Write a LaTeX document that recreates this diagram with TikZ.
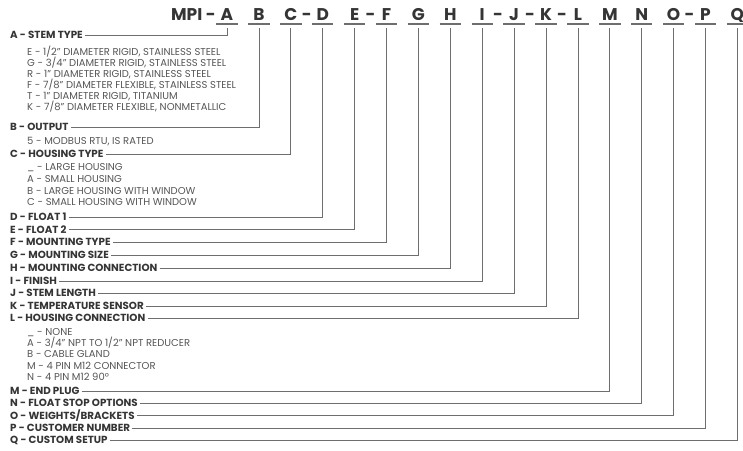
\documentclass[tikz,border=0pt]{standalone}
\usepackage{fontspec}
\setmainfont{Poppins}
\usepackage{xcolor}
\usetikzlibrary{calc, positioning}
\definecolor{codegray}{HTML}{353535}
\definecolor{optgray}{HTML}{555555}
\definecolor{leadgray}{HTML}{6E6E6E}

\begin{document}
\begin{tikzpicture}[
    x=1pt, y=-1pt,
    code letter/.style={
        font=\fontsize{17}{17}\selectfont\bfseries,
        text=codegray,
        anchor=base,
        inner sep=0pt,
        minimum width=21pt  % 与下划线等宽
    },
    field label/.style={
        font=\fontsize{10.3}{11}\selectfont\bfseries,
        text=codegray,
        anchor=west,
        text height=7.2pt, text depth=0pt,
        inner xsep=2pt, inner ysep=0pt
    },
    option line/.style={
        font=\fontsize{10}{11}\selectfont,
        text=optgray,
        anchor=west,
        text height=7pt, text depth=0pt,
        inner sep=0pt
    },
    leader/.style={draw=leadgray, line width=0.8pt},
    underline/.style={draw=leadgray, line width=1.2pt}
]
    \useasboundingbox (0,0) rectangle (743,450);

    % 型号代码
    \node[code letter, anchor=base east, minimum width=0pt] (mpi) at (216,20) {MPI -};
    \foreach \l [count=\i from 0] in {A,...,Q} {
        \node[code letter] (h\l) at ({227+31.9*\i},20) {\l};
        \draw[underline] ([yshift=-4pt]h\l.base west) -- ([yshift=-4pt]h\l.base east);  % 下划线
    }
    \foreach \a/\b in {C/D,E/F,I/J,J/K,K/L,O/P}
        \node[code letter, minimum width=0pt] (d\a\b) at ($(h\a.base)!.5!(h\b.base)$) {-};

    % 左侧说明
    \node[field label] (lA) at (8,35) {A - STEM TYPE};
    \foreach \t [count=\i] in {{E - 1/2" DIAMETER RIGID, STAINLESS STEEL},
        {G - 3/4" DIAMETER RIGID, STAINLESS STEEL},
        {R - 1" DIAMETER RIGID, STAINLESS STEEL},
        {F - 7/8" DIAMETER FLEXIBLE, STAINLESS STEEL},
        {T - 1" DIAMETER RIGID, TITANIUM},
        {K - 7/8" DIAMETER FLEXIBLE, NONMETALLIC}}
        \node[option line] (oA\i) at (27,{41+11*\i}) {\t};

    \node[field label] (lB) at (8,127) {B - OUTPUT};
    \node[option line] (oB1) at (27,141) {5 - MODBUS RTU, IS RATED};

    \node[field label] (lC) at (8,154) {C - HOUSING TYPE};
    \foreach \t [count=\i] in {{\_ - LARGE HOUSING},
        {A - SMALL HOUSING},
        {B - LARGE HOUSING WITH WINDOW},
        {C - SMALL HOUSING WITH WINDOW}}
        \node[option line] (oC\i) at (27,{155.5+11.7*\i}) {\t};

    \node[field label] (lD) at (8,217) {D - FLOAT 1};
    \node[field label] (lE) at (8,229.5) {E - FLOAT 2};
    \node[field label] (lF) at (8,242) {F - MOUNTING TYPE};
    \node[field label] (lG) at (8,255) {G - MOUNTING SIZE};
    \node[field label] (lH) at (8,268) {H - MOUNTING CONNECTION};
    \node[field label] (lI) at (8,281) {I - FINISH};
    \node[field label] (lJ) at (8,293) {J - STEM LENGTH};
    \node[field label] (lK) at (8,306) {K - TEMPERATURE SENSOR};
    \node[field label] (lL) at (8,318) {L - HOUSING CONNECTION};
    \foreach \t [count=\i] in {{\_ - NONE},
        {A - 3/4" NPT TO 1/2" NPT REDUCER},
        {B - CABLE GLAND},
        {M - 4 PIN M12 CONNECTOR},
        {N - 4 PIN M12 90°}}
        \node[option line] (oL\i) at (27,{320.5+11.3*\i}) {\t};

    \node[field label] (lM) at (8,391) {M - END PLUG};
    \node[field label] (lN) at (8,403) {N - FLOAT STOP OPTIONS};
    \node[field label] (lO) at (8,415.5) {O - WEIGHTS/BRACKETS};
    \node[field label] (lP) at (8,428) {P - CUSTOMER NUMBER};
    \node[field label] (lQ) at (8,440) {Q - CUSTOM SETUP};

    % 引线
    \foreach \l in {A,...,Q}
        \draw[leader] (l\l.east) -| ([yshift=-8pt]h\l.base);
\end{tikzpicture}
\end{document}
